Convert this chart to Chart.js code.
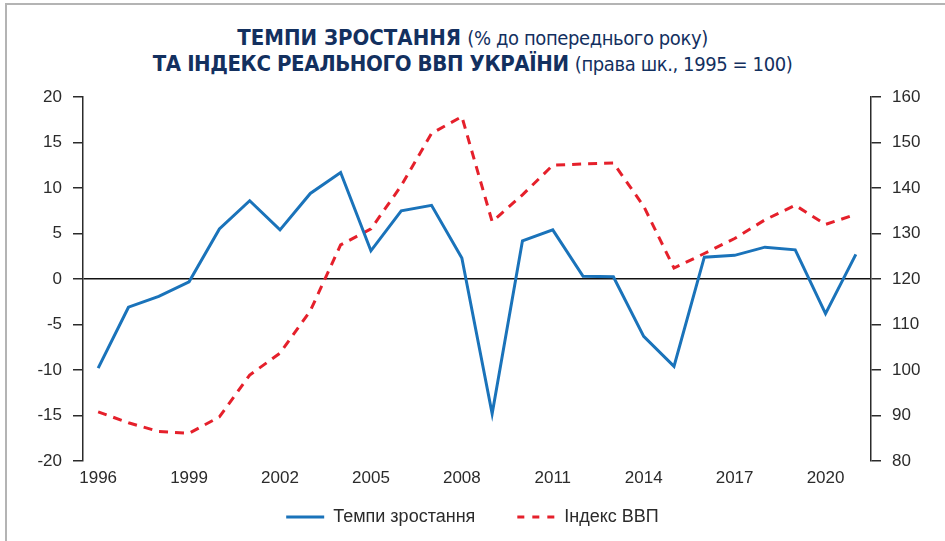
<!DOCTYPE html>
<html>
<head>
<meta charset="utf-8">
<script src="https://cdn.jsdelivr.net/npm/chart.js@4/dist/chart.umd.min.js"></script>
<style>
  html, body { margin: 0; padding: 0; width: 945px; height: 541px; overflow: hidden; background: #fff; }
  #frame { position: absolute; left: 5px; top: 3px; width: 945px; height: 545px; border-left: 2px solid #b4b4b4; border-top: 2px solid #b4b4b4; }
  #title { position: absolute; left: 0; top: 25px; width: 945px; text-align: center; color: #13305f;
    font-family: "DejaVu Sans Condensed", sans-serif; font-size: 22px; line-height: 25px; white-space: nowrap; }
  #title b { font-weight: bold; }
  #title b.tight { letter-spacing: -0.4px; }
  #title span { font-weight: normal; font-size: 20px; letter-spacing: -0.4px; }
  #wrap { position: absolute; left: 0; top: 0; width: 945px; height: 541px; }
</style>
</head>
<body>
<div id="frame"></div>
<div id="title">
  <b>ТЕМПИ ЗРОСТАННЯ</b> <span>(% до попереднього року)</span><br>
  <b class="tight">ТА ІНДЕКС РЕАЛЬНОГО ВВП УКРАЇНИ</b> <span>(права шк., 1995 = 100)</span>
</div>
<div id="wrap"><canvas id="chart"></canvas></div>
<script>
// data
const years = ["1996", "1997", "1998", "1999", "2000", "2001", "2002", "2003", "2004", "2005", "2006", "2007", "2008",
  "2009", "2010", "2011", "2012", "2013", "2014", "2015", "2016", "2017", "2018", "2019", "2020", "2021"];
const growth = [-9.8, -3.1, -1.9, -0.3, 5.5, 8.6, 5.4, 9.4, 11.7, 3.1, 7.5, 8.1, 2.3,
  -14.8, 4.2, 5.4, 0.3, 0.25, -6.3, -9.6, 2.4, 2.6, 3.5, 3.2, -3.8, 2.7];
const gdpIndex = [90.8, 88.4, 86.5, 86.1, 89.7, 98.9, 103.7, 113, 127.5, 131, 140.5, 152, 155.7,
  132.6, 138.5, 145, 145.3, 145.5, 136, 122.4, 125.6, 128.9, 133, 136.2, 132, 134.2];
const leftTicks = [-20, 20, 5];
const rightTicks = [80, 160, 10];

const tickFont = { family: "'Liberation Sans', Arial, sans-serif", size: 17 };
const legendFont = { family: "'Liberation Sans', Arial, sans-serif", size: 18 };
const ink = "#2b2b2b";

const ctx = document.getElementById("chart").getContext("2d");
const chart = new Chart(ctx, {
  type: "line",
  data: {
    labels: years,
    datasets: [
      {
        label: "Темпи зростання",
        data: growth,
        yAxisID: "y",
        borderColor: "#1a73ba",
        backgroundColor: "#1a73ba",
        borderWidth: 3,
        pointRadius: 0,
        tension: 0,
      },
      {
        label: "Індекс ВВП",
        data: gdpIndex,
        yAxisID: "y2",
        borderColor: "#e5202b",
        backgroundColor: "#e5202b",
        borderWidth: 3,
        borderDash: [9, 7],
        pointRadius: 0,
        tension: 0,
      },
    ],
  },
  options: {
    responsive: true,
    maintainAspectRatio: false,
    animation: false,
    layout: { padding: { top: 97, left: 0, right: 0, bottom: 5 } },
    plugins: {
      title: { display: false },
      tooltip: { enabled: false },
      legend: {
        position: "bottom",
        labels: {
          color: ink,
          font: legendFont,
          usePointStyle: true,
          pointStyle: "line",
          pointStyleWidth: 38,
          boxHeight: 18,
          padding: 17,
          generateLabels: function (c) {
            const items = Chart.defaults.plugins.legend.labels.generateLabels(c);
            // a bit of extra room between the two entries
            items[0].text = items[0].text + "     ";
            items[0].lineWidth = 3;
            items[1].lineWidth = 3;
            items[1].lineDash = [7, 8];
            return items;
          },
        },
      },
    },
    scales: {
      x: {
        offset: true,
        grid: { display: false, drawTicks: false },
        border: { display: false },
        ticks: {
          color: ink,
          font: tickFont,
          padding: 7,
          autoSkip: false,
          maxRotation: 0,
          callback: function (v, i) { return i % 3 === 0 ? years[i] : ""; },
        },
        afterFit: function (s) { s.height = 30; },
      },
      y: {
        position: "left",
        min: leftTicks[0],
        max: leftTicks[1],
        ticks: { stepSize: leftTicks[2], color: ink, font: tickFont, padding: 11 },
        grid: {
          color: function (c) { return c.tick && c.tick.value === 0 ? "#111" : "rgba(0,0,0,0)"; },
          lineWidth: 1.5,
          tickColor: ink,
          tickLength: 10,
        },
        border: { display: true, color: ink, width: 1.5 },
        afterFit: function (s) { s.width = 83; },
      },
      y2: {
        position: "right",
        min: rightTicks[0],
        max: rightTicks[1],
        ticks: { stepSize: rightTicks[2], color: ink, font: tickFont, padding: 11 },
        grid: { drawOnChartArea: false, tickColor: ink, tickLength: 10, lineWidth: 1.5 },
        border: { display: true, color: ink, width: 1.5 },
        afterFit: function (s) { s.width = 74; },
      },
    },
  },
});
</script>
</body>
</html>
